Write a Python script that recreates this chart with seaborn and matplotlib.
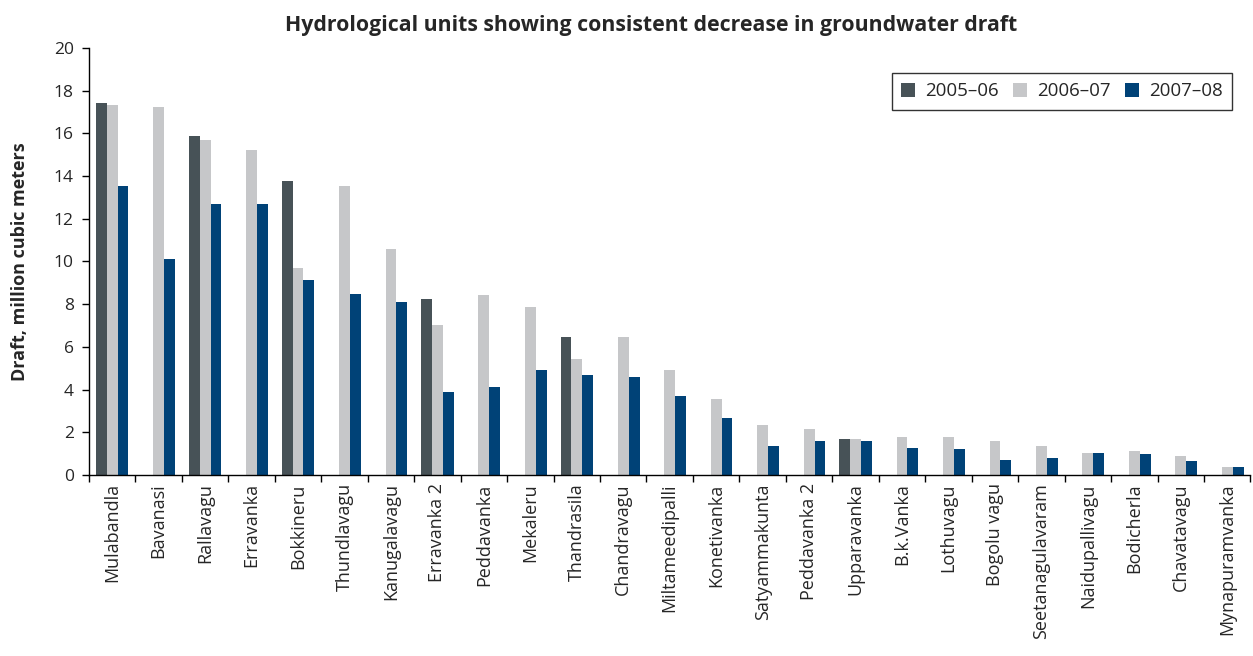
import numpy as np
import pandas as pd
import matplotlib
matplotlib.use("Agg")
import matplotlib.pyplot as plt
import seaborn as sns

categories = ["Mulabandla", "Bavanasi", "Rallavagu", "Erravanka", "Bokkineru",
              "Thundlavagu", "Kanugalavagu", "Erravanka 2", "Peddavanka", "Mekaleru",
              "Thandrasila", "Chandravagu", "Miltameedipalli", "Konetivanka",
              "Satyammakunta", "Peddavanka 2", "Upparavanka", "B.k.Vanka", "Lothuvagu",
              "Bogolu vagu", "Seetanagulavaram", "Naidupallivagu", "Bodicherla",
              "Chavatavagu", "Mynapuramvanka"]
nan = np.nan
y2005 = [17.42, nan, 15.88, nan, 13.77, nan, nan, 8.24, nan, nan, 6.45, nan, nan, nan,
         nan, nan, 1.67, nan, nan, nan, nan, nan, nan, nan, nan]
y2006 = [17.33, 17.24, 15.69, 15.22, 9.70, 13.54, 10.59, 7.03, 8.43, 7.85, 5.42, 6.45,
         4.90, 3.54, 2.33, 2.14, 1.67, 1.76, 1.76, 1.58, 1.34, 1.01, 1.11, 0.87, 0.36]
y2007 = [13.54, 10.12, 12.69, 12.69, 9.13, 8.48, 8.10, 3.89, 4.12, 4.90, 4.67, 4.57,
         3.68, 2.65, 1.34, 1.58, 1.58, 1.25, 1.20, 0.69, 0.78, 1.01, 0.97, 0.64, 0.36]
series = ["2005\u201306", "2006\u201307", "2007\u201308"]
colors = ["#475257", "#c6c7c9", "#004277"]

df = pd.DataFrame({"unit": categories * 3,
                   "year": [series[0]] * 25 + [series[1]] * 25 + [series[2]] * 25,
                   "draft": y2005 + y2006 + y2007})

sns.set_style("white")
plt.rcParams["font.family"] = ["Open Sans", "DejaVu Sans"]

fig = plt.figure(figsize=(12.53, 6.56), dpi=100)
ax = fig.add_axes([0.071, 0.276, 0.927, 0.651])
sns.barplot(data=df, x="unit", y="draft", hue="year", order=categories,
            hue_order=series, palette=colors, width=0.7, saturation=1,
            errorbar=None, ax=ax, linewidth=0)

ax.set_xlim(-0.5, len(categories) - 0.5)
ax.set_ylim(0, 20)
ax.set_yticks(range(0, 21, 2))
ax.tick_params(axis="y", labelsize=12.5, length=5, width=1, color="black", left=True,
               direction="out", pad=6)
ax.set_xticks(range(len(categories)))
ax.set_xticklabels(categories, rotation=90, fontsize=13)
ax.tick_params(axis="x", which="major", length=0, pad=6)
ax.set_xticks(np.arange(-0.5, len(categories), 1.0), minor=True)
ax.tick_params(axis="x", which="minor", length=5, width=1, color="black", bottom=True, direction="out")

for s in ["top", "right"]:
    ax.spines[s].set_visible(False)
for s in ["left", "bottom"]:
    ax.spines[s].set_color("black")
    ax.spines[s].set_linewidth(1)

ax.set_xlabel("")
ax.set_ylabel("Draft, million cubic meters", fontsize=13, fontweight="bold", labelpad=18)
ax.set_title("Hydrological units showing consistent decrease in groundwater draft",
             fontsize=15.3, fontweight="bold", pad=12, x=0.484)

leg = ax.legend(loc="upper right", bbox_to_anchor=(0.984, 0.941), ncol=3, fontsize=13.5,
                frameon=True, fancybox=False, handlelength=0.75, handleheight=0.75,
                handletextpad=0.5, columnspacing=0.8, borderpad=0.5, borderaxespad=0)
leg.get_frame().set_edgecolor("black")
leg.get_frame().set_linewidth(1)

fig.savefig("out.png", dpi=100)
